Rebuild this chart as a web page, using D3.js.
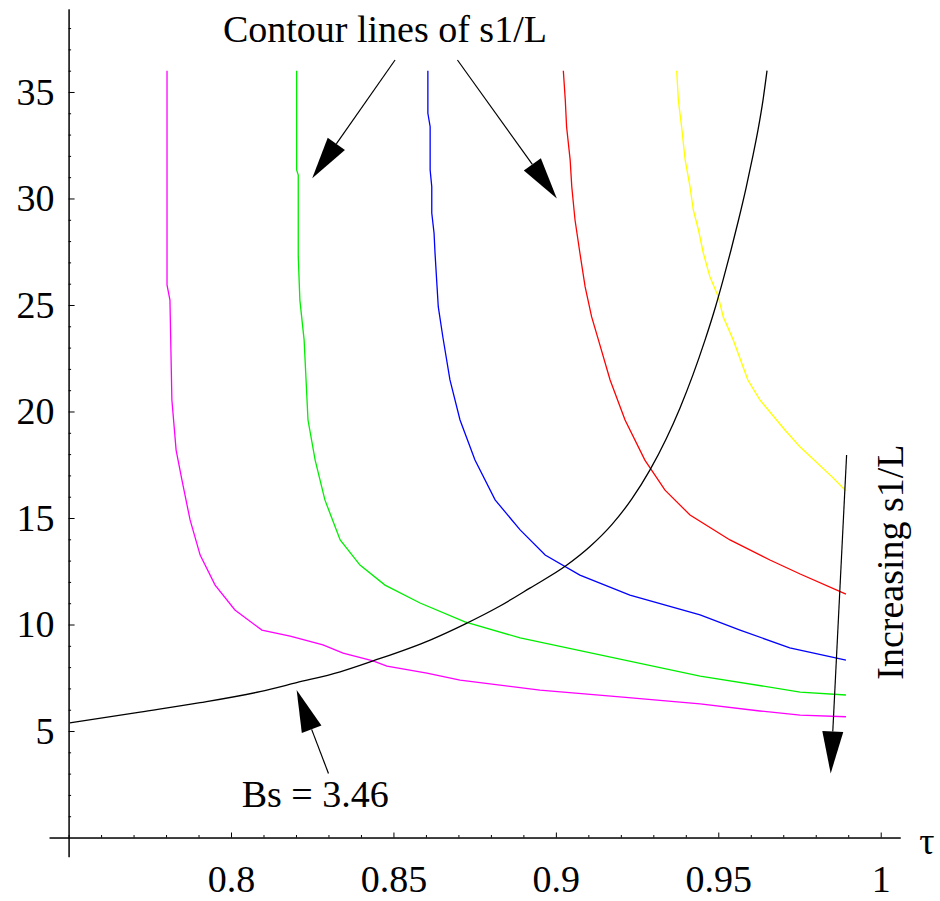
<!DOCTYPE html>
<html>
<head>
<meta charset="utf-8">
<script src="https://cdn.jsdelivr.net/npm/d3@7/dist/d3.min.js"></script>
<style>
  body { margin: 0; background: #fff; }
  svg text { font-family: "Liberation Serif", "Times New Roman", serif; fill: #000; }
  .axis path, .axis line { stroke: #000; stroke-width: 1; }
</style>
</head>
<body>
<div id="chart"></div>
<script>
// contour lines of s1/L, as [tau, value]
const magenta = [[0.7803,36],[0.7803,25.94],[0.7812,25.23],[0.7818,20.54],[0.7831,18.19],[0.7849,16.78],
  [0.7874,14.91],[0.7905,13.26],[0.7951,11.85],[0.8012,10.68],[0.8095,9.74],[0.8182,9.46],[0.8283,9.04],
  [0.8345,8.66],[0.8437,8.29],[0.848,8.05],[0.8603,7.72],[0.8705,7.39],[0.8951,6.92],[0.9197,6.6],
  [0.9444,6.27],[0.9628,5.94],[0.9752,5.75],[0.9893,5.67]];
const green = [[0.8202,36],[0.8202,31.34],[0.8207,31.1],[0.8207,27.27],[0.8212,25.23],[0.8225,23.36],
  [0.8237,19.6],[0.8259,17.72],[0.8289,15.85],[0.8336,13.97],[0.8397,12.79],[0.8474,11.85],[0.8582,11.01],
  [0.872,10.12],[0.889,9.37],[0.9136,8.57],[0.9444,7.58],[0.9752,6.83],[0.9893,6.69]];
const blue = [[0.8606,36],[0.8606,34],[0.8613,33.37],[0.8613,31.34],[0.8618,30.55],[0.8618,29.32],
  [0.8625,28.38],[0.8628,27.44],[0.8633,26.17],[0.8638,24.92],[0.8652,23.51],[0.8674,21.48],[0.8705,19.6],
  [0.8751,17.72],[0.8813,15.85],[0.889,14.44],[0.8967,13.26],[0.9074,12.32],[0.9228,11.38],[0.9444,10.45],
  [0.9567,9.74],[0.972,8.9],[0.9893,8.33]];
const red = [[0.9023,36],[0.9029,34.62],[0.9033,33.37],[0.9044,31.81],[0.9049,30.55],[0.9059,28.99],
  [0.9074,27.44],[0.909,25.86],[0.911,24.45],[0.9131,23.36],[0.9167,21.48],[0.9213,19.6],[0.9274,17.72],
  [0.9336,16.31],[0.9413,15.14],[0.9536,13.97],[0.9659,13.03],[0.9752,12.37],[0.9893,11.43]];
const yellow = [[0.9372,36],[0.9377,34.62],[0.9387,33.37],[0.9398,31.81],[0.9413,30.55],[0.9423,29.46],
  [0.9439,28.52],[0.9454,27.43],[0.9474,26.33],[0.95,25.39],[0.9515,24.45],[0.9546,23.36],[0.9591,21.48],
  [0.9628,20.54],[0.9705,19.13],[0.9752,18.33],[0.9851,16.92],[0.9893,16.27]];
// Bs = 3.46 line
const bsLine = [[0.7504,5.38],[0.772,5.89],[0.7905,6.33],[0.8089,6.85],[0.8202,7.27],[0.8336,7.78],
  [0.8437,8.29],[0.8613,9.27],[0.872,10.02],[0.8828,10.87],[0.892,11.71],[0.9034,12.79],[0.91051,13.66],
  [0.91729,14.70],[0.92344,15.91],[0.92898,17.26],[0.93391,18.70],[0.93822,20.17],[0.94222,21.73],
  [0.94591,23.35],[0.94915,24.92],[0.95146,26.17],[0.95392,27.58],[0.95623,28.99],[0.95854,30.49],
  [0.96039,31.81],[0.96223,33.22],[0.96377,34.62],[0.965,36]];

const curves = [
  { pts: magenta, color: '#ff00ff', smooth: false },
  { pts: green, color: '#00ee00', smooth: false },
  { pts: blue, color: '#0000ff', smooth: false },
  { pts: red, color: '#ff0000', smooth: false },
  { pts: yellow, color: '#ffff00', smooth: false },
  { pts: bsLine, color: '#000000', smooth: true }
];

const xMajor = [0.8, 0.85, 0.9, 0.95, 1];
const xMinor = d3.range(75, 101).map(d => d / 100).filter(d => xMajor.indexOf(d) < 0);
const yMajor = [5, 10, 15, 20, 25, 30, 35];
const yMinor = d3.range(1, 39).filter(d => d % 5 !== 0);

const width = 940, height = 901;
const serif = '"Liberation Serif", "Times New Roman", serif';

const x = d3.scaleLinear().domain([0.744, 1.006]).range([49.1, 900.2]);
const y = d3.scaleLinear().domain([-0.9, 38.9]).range([856.7, 8.9]);

const svg = d3.select('#chart').append('svg')
  .attr('width', width)
  .attr('height', height);

// x axis, ticks point up into the plot
svg.append('g')
  .attr('class', 'axis')
  .attr('transform', 'translate(0,' + y(0) + ')')
  .call(d3.axisBottom(x).tickValues(xMinor).tickSizeInner(-2.5).tickSizeOuter(0).tickFormat(''));
svg.append('g')
  .attr('class', 'axis')
  .attr('transform', 'translate(0,' + y(0) + ')')
  .call(d3.axisBottom(x).tickValues(xMajor).tickSizeInner(-5).tickSizeOuter(0)
    .tickPadding(28).tickFormat(d3.format('')));

// y axis, ticks point right
svg.append('g')
  .attr('class', 'axis')
  .attr('transform', 'translate(' + x(0.75) + ',0)')
  .call(d3.axisLeft(y).tickValues(yMinor).tickSizeInner(-2.5).tickSizeOuter(0).tickFormat(''));
svg.append('g')
  .attr('class', 'axis')
  .attr('transform', 'translate(' + x(0.75) + ',0)')
  .call(d3.axisLeft(y).tickValues(yMajor).tickSizeInner(-6).tickSizeOuter(0)
    .tickPadding(14).tickFormat(d3.format('')));

svg.selectAll('.axis')
  .attr('font-family', serif)
  .attr('font-size', 38);
svg.selectAll('.axis text')
  .style('font-family', serif)
  .style('font-size', '38px');

svg.append('text')
  .attr('x', x.range()[1] + 19)
  .attr('y', y(0) + 16)
  .style('font-size', '38px')
  .text('τ');

const line = d3.line().x(d => x(d[0])).y(d => y(d[1]));
const smoothLine = d3.line().x(d => x(d[0])).y(d => y(d[1])).curve(d3.curveMonotoneX);

svg.append('g').selectAll('path').data(curves)
  .enter().append('path')
    .attr('d', d => d.smooth ? smoothLine(d.pts) : line(d.pts))
    .attr('fill', 'none')
    .attr('stroke', d => d.color)
    .attr('stroke-width', 1.3);

// annotations: [tail, tip] in data units
const arrows = [
  [[0.8505, 36.5], [0.8250, 30.95]],
  [[0.8697, 36.5], [0.9003, 30.0]],
  [[0.8300, 3.01], [0.8202, 6.92]],
  [[0.9895, 17.96], [0.9846, 3.01]]
];

const headLen = 42, headHalf = 10.5;
arrows.forEach(function(a) {
  const x0 = x(a[0][0]), y0 = y(a[0][1]);
  const x1 = x(a[1][0]), y1 = y(a[1][1]);
  const len = Math.hypot(x1 - x0, y1 - y0);
  const ux = (x1 - x0) / len, uy = (y1 - y0) / len;
  const bx = x1 - ux * headLen, by = y1 - uy * headLen;
  svg.append('line')
    .attr('x1', x0).attr('y1', y0)
    .attr('x2', bx).attr('y2', by)
    .attr('stroke', '#000')
    .attr('stroke-width', 1.2);
  svg.append('polygon')
    .attr('points', [[x1, y1], [bx - uy * headHalf, by + ux * headHalf], [bx + uy * headHalf, by - ux * headHalf]]
      .map(p => p.join(',')).join(' '))
    .attr('fill', '#000');
});

svg.append('text')
  .attr('x', x(0.7975))
  .attr('y', y(37.36))
  .style('font-size', '38px')
  .text('Contour lines of s1/L');

svg.append('text')
  .attr('x', x(0.8033))
  .attr('y', y(1.45))
  .style('font-size', '38px')
  .text('Bs = 3.46');

svg.append('text')
  .attr('transform', 'translate(' + x(1.0069) + ',' + y(12.93) + ') rotate(-90)')
  .attr('text-anchor', 'middle')
  .style('font-size', '38px')
  .text('Increasing s1/L');
</script>
</body>
</html>
